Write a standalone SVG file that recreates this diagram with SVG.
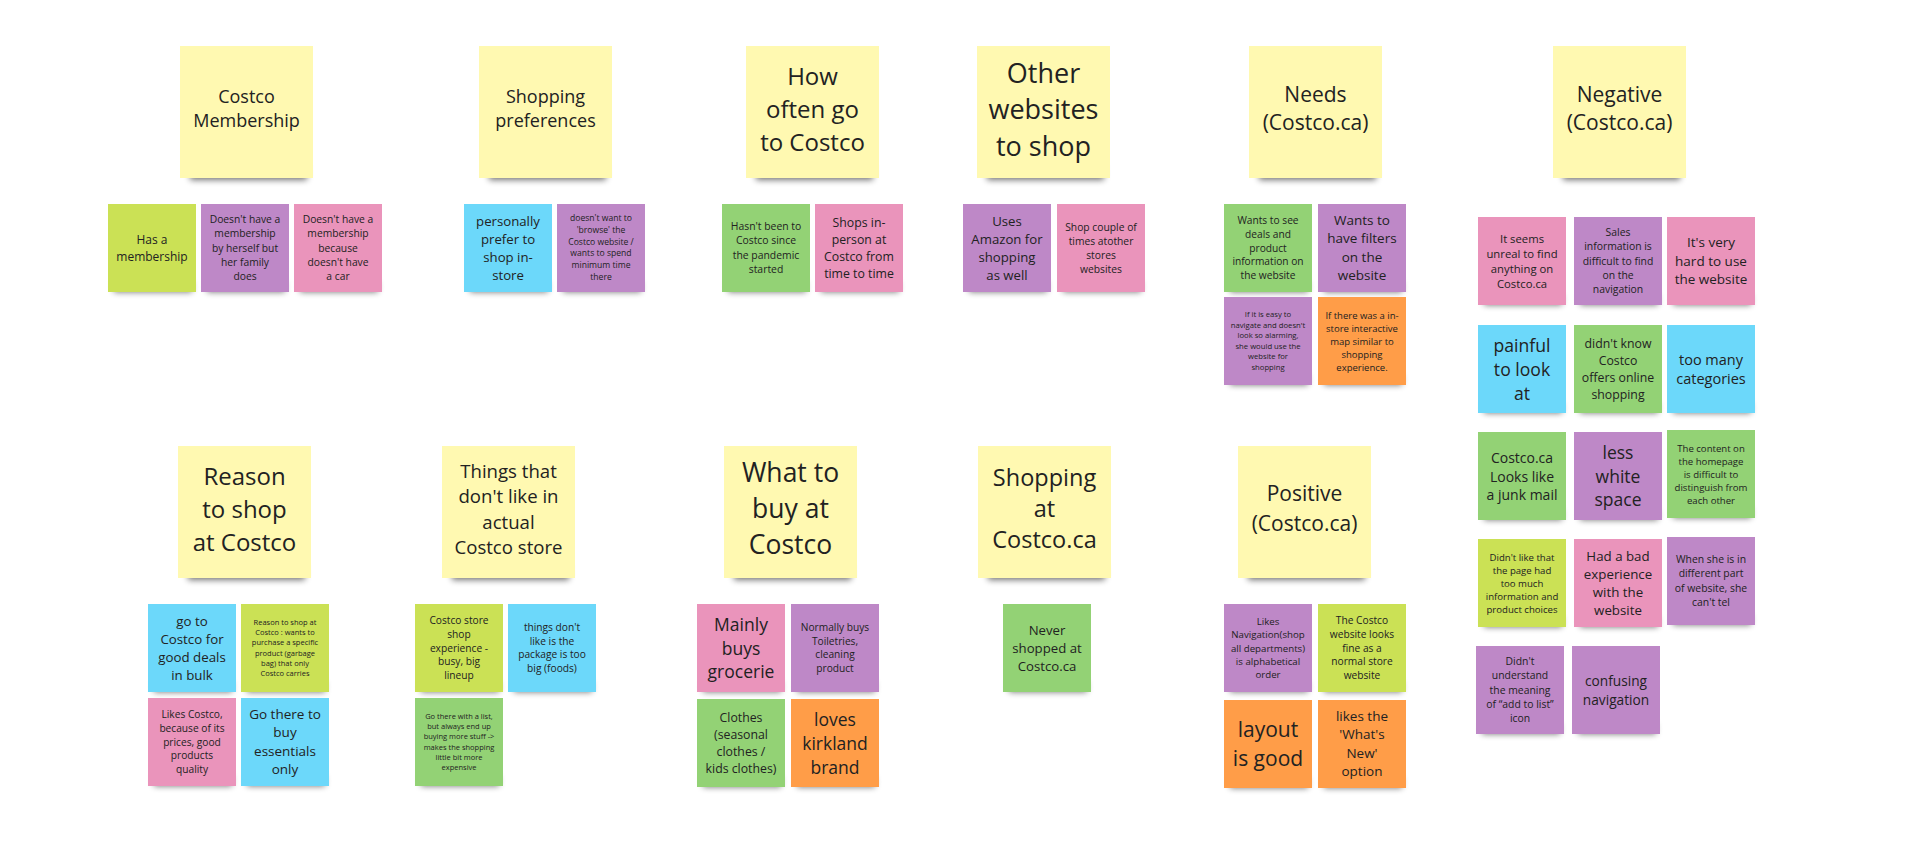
<svg xmlns="http://www.w3.org/2000/svg" width="1920" height="846" viewBox="0 0 1920 846">
<defs>
<filter id="blur" x="-20%" y="-100%" width="140%" height="300%"><feGaussianBlur stdDeviation="3"/></filter>
<style>
.sh{fill:#000;opacity:.55;filter:url(#blur)}
.y{fill:#FFF9B1}.l{fill:#CBE155}.g{fill:#93D275}.p{fill:#BE88C7}.k{fill:#EA94BB}.b{fill:#6CD8FA}.o{fill:#FF9D48}
text{font-family:"Open Sans","Noto Sans",sans-serif;text-anchor:middle;dominant-baseline:central;fill:#222}
</style>
</defs>
<rect width="1920" height="846" fill="#fff"/>
<g id="connectors"/>

<!-- Headers top row -->
<g id="h-membership"><rect class="sh" x="190" y="166" width="117" height="14"/><rect class="y" x="180" y="46" width="133" height="132"/>
<text style="font-size:18px" y="95.75"><tspan x="246.5">Costco</tspan><tspan x="246.5" dy="24.5">Membership</tspan></text></g>
<g id="h-preferences"><rect class="sh" x="489" y="166" width="117" height="14"/><rect class="y" x="479" y="46" width="133" height="132"/>
<text style="font-size:18px" y="95.75"><tspan x="545.5">Shopping</tspan><tspan x="545.5" dy="24.5">preferences</tspan></text></g>
<g id="h-howoften"><rect class="sh" x="756" y="166" width="117" height="14"/><rect class="y" x="746" y="46" width="133" height="132"/>
<text style="font-size:24px" y="75.4"><tspan x="812.5">How</tspan><tspan x="812.5" dy="32.6">often go</tspan><tspan x="812.5" dy="32.6">to Costco</tspan></text></g>
<g id="h-otherwebsites"><rect class="sh" x="987" y="166" width="117" height="14"/><rect class="y" x="977" y="46" width="133" height="132"/>
<text style="font-size:27px" y="71.5"><tspan x="1043.5">Other</tspan><tspan x="1043.5" dy="36.5">websites</tspan><tspan x="1043.5" dy="36.5">to shop</tspan></text></g>
<g id="h-needs"><rect class="sh" x="1259" y="166" width="117" height="14"/><rect class="y" x="1249" y="46" width="133" height="132"/>
<text style="font-size:21px" y="93.6"><tspan x="1315.5">Needs</tspan><tspan x="1315.5" dy="28.8">(Costco.ca)</tspan></text></g>
<g id="h-negative"><rect class="sh" x="1563" y="166" width="117" height="14"/><rect class="y" x="1553" y="46" width="133" height="132"/>
<text style="font-size:21px" y="93.6"><tspan x="1619.5">Negative</tspan><tspan x="1619.5" dy="28.8">(Costco.ca)</tspan></text></g>

<!-- Headers bottom row -->
<g id="h-reason"><rect class="sh" x="188" y="566" width="117" height="14"/><rect class="y" x="178" y="446" width="133" height="132"/>
<text style="font-size:24px" y="475.4"><tspan x="244.5">Reason</tspan><tspan x="244.5" dy="32.6">to shop</tspan><tspan x="244.5" dy="32.6">at Costco</tspan></text></g>
<g id="h-dontlike"><rect class="sh" x="452" y="566" width="117" height="14"/><rect class="y" x="442" y="446" width="133" height="132"/>
<text style="font-size:18.6px" y="469.9"><tspan x="508.5">Things that</tspan><tspan x="508.5" dy="25.4">don't like in</tspan><tspan x="508.5" dy="25.4">actual</tspan><tspan x="508.5" dy="25.4">Costco store</tspan></text></g>
<g id="h-whattobuy"><rect class="sh" x="734" y="566" width="117" height="14"/><rect class="y" x="724" y="446" width="133" height="132"/>
<text style="font-size:26.5px" y="472.2"><tspan x="790.5">What to</tspan><tspan x="790.5" dy="35.8">buy at</tspan><tspan x="790.5" dy="35.8">Costco</tspan></text></g>
<g id="h-shoppingca"><rect class="sh" x="988" y="566" width="117" height="14"/><rect class="y" x="978" y="446" width="133" height="132"/>
<text style="font-size:23.5px" y="477"><tspan x="1044.5">Shopping</tspan><tspan x="1044.5" dy="31">at</tspan><tspan x="1044.5" dy="31">Costco.ca</tspan></text></g>
<g id="h-positive"><rect class="sh" x="1248" y="566" width="117" height="14"/><rect class="y" x="1238" y="446" width="133" height="132"/>
<text style="font-size:21px" y="493.35"><tspan x="1304.5">Positive</tspan><tspan x="1304.5" dy="29.3">(Costco.ca)</tspan></text></g>

<!-- Costco Membership -->
<g id="a1"><rect class="sh" x="114" y="282" width="78" height="10"/><rect class="l" x="108" y="204" width="88" height="88"/>
<text style="font-size:12px" y="239.25"><tspan x="152">Has a</tspan><tspan x="152" dy="16.5">membership</tspan></text></g>
<g id="a2"><rect class="sh" x="207" y="282" width="78" height="10"/><rect class="p" x="201" y="204" width="88" height="88"/>
<text style="font-size:10.3px" y="219.1"><tspan x="245">Doesn't have a</tspan><tspan x="245" dy="14.2">membership</tspan><tspan x="245" dy="14.2">by herself but</tspan><tspan x="245" dy="14.2">her family</tspan><tspan x="245" dy="14.2">does</tspan></text></g>
<g id="a3"><rect class="sh" x="300" y="282" width="78" height="10"/><rect class="k" x="294" y="204" width="88" height="88"/>
<text style="font-size:10.3px" y="219.1"><tspan x="338">Doesn't have a</tspan><tspan x="338" dy="14.2">membership</tspan><tspan x="338" dy="14.2">because</tspan><tspan x="338" dy="14.2">doesn't have</tspan><tspan x="338" dy="14.2">a car</tspan></text></g>

<!-- Shopping preferences -->
<g id="b1"><rect class="sh" x="470" y="282" width="78" height="10"/><rect class="b" x="464" y="204" width="88" height="88"/>
<text style="font-size:13.2px" y="220.5"><tspan x="508">personally</tspan><tspan x="508" dy="18">prefer to</tspan><tspan x="508" dy="18">shop in-</tspan><tspan x="508" dy="18">store</tspan></text></g>
<g id="b2"><rect class="sh" x="563" y="282" width="78" height="10"/><rect class="p" x="557" y="204" width="88" height="88"/>
<text style="font-size:8.6px" y="218.25"><tspan x="601">doesn't want to</tspan><tspan x="601" dy="11.7">'browse' the</tspan><tspan x="601" dy="11.7">Costco website /</tspan><tspan x="601" dy="11.7">wants to spend</tspan><tspan x="601" dy="11.7">minimum time</tspan><tspan x="601" dy="11.7">there</tspan></text></g>

<!-- How often -->
<g id="c1"><rect class="sh" x="728" y="282" width="78" height="10"/><rect class="g" x="722" y="204" width="88" height="88"/>
<text style="font-size:10.4px" y="226.2"><tspan x="766">Hasn't been to</tspan><tspan x="766" dy="14.2">Costco since</tspan><tspan x="766" dy="14.2">the pandemic</tspan><tspan x="766" dy="14.2">started</tspan></text></g>
<g id="c2"><rect class="sh" x="821" y="282" width="78" height="10"/><rect class="k" x="815" y="204" width="88" height="88"/>
<text style="font-size:12.3px" y="222.45"><tspan x="859">Shops in-</tspan><tspan x="859" dy="16.7">person at</tspan><tspan x="859" dy="16.7">Costco from</tspan><tspan x="859" dy="16.7">time to time</tspan></text></g>

<!-- Other websites -->
<g id="d1"><rect class="sh" x="969" y="282" width="78" height="10"/><rect class="p" x="963" y="204" width="88" height="88"/>
<text style="font-size:13.2px" y="220.5"><tspan x="1007">Uses</tspan><tspan x="1007" dy="18">Amazon for</tspan><tspan x="1007" dy="18">shopping</tspan><tspan x="1007" dy="18">as well</tspan></text></g>
<g id="d2"><rect class="sh" x="1063" y="282" width="78" height="10"/><rect class="k" x="1057" y="204" width="88" height="88"/>
<text style="font-size:10.3px" y="226.5"><tspan x="1101">Shop couple of</tspan><tspan x="1101" dy="14">times atother</tspan><tspan x="1101" dy="14">stores</tspan><tspan x="1101" dy="14">websites</tspan></text></g>

<!-- Needs -->
<g id="e1"><rect class="sh" x="1230" y="282" width="78" height="10"/><rect class="g" x="1224" y="204" width="88" height="88"/>
<text style="font-size:10.2px" y="220.1"><tspan x="1268">Wants to see</tspan><tspan x="1268" dy="13.7">deals and</tspan><tspan x="1268" dy="13.7">product</tspan><tspan x="1268" dy="13.7">information on</tspan><tspan x="1268" dy="13.7">the website</tspan></text></g>
<g id="e2"><rect class="sh" x="1324" y="282" width="78" height="10"/><rect class="p" x="1318" y="204" width="88" height="88"/>
<text style="font-size:13.5px" y="220.05"><tspan x="1362">Wants to</tspan><tspan x="1362" dy="18.3">have filters</tspan><tspan x="1362" dy="18.3">on the</tspan><tspan x="1362" dy="18.3">website</tspan></text></g>
<g id="e3"><rect class="sh" x="1230" y="375" width="78" height="10"/><rect class="p" x="1224" y="297" width="88" height="88"/>
<text style="font-size:7.7px" y="314.25"><tspan x="1268">If it is easy to</tspan><tspan x="1268" dy="10.5">navigate and doesn't</tspan><tspan x="1268" dy="10.5">look so alarming,</tspan><tspan x="1268" dy="10.5">she would use the</tspan><tspan x="1268" dy="10.5">website for</tspan><tspan x="1268" dy="10.5">shopping</tspan></text></g>
<g id="e4"><rect class="sh" x="1324" y="375" width="78" height="10"/><rect class="o" x="1318" y="297" width="88" height="88"/>
<text style="font-size:9.5px" y="314.5"><tspan x="1362">If there was a in-</tspan><tspan x="1362" dy="13">store interactive</tspan><tspan x="1362" dy="13">map similar to</tspan><tspan x="1362" dy="13">shopping</tspan><tspan x="1362" dy="13">experience.</tspan></text></g>

<!-- Negative -->
<g id="f1"><rect class="sh" x="1484" y="295" width="78" height="10"/><rect class="k" x="1478" y="217" width="88" height="88"/>
<text style="font-size:11.3px" y="237.55"><tspan x="1522">It seems</tspan><tspan x="1522" dy="15.3">unreal to find</tspan><tspan x="1522" dy="15.3">anything on</tspan><tspan x="1522" dy="15.3">Costco.ca</tspan></text></g>
<g id="f2"><rect class="sh" x="1580" y="295" width="78" height="10"/><rect class="p" x="1574" y="217" width="88" height="88"/>
<text style="font-size:10.4px" y="232.1"><tspan x="1618">Sales</tspan><tspan x="1618" dy="14.2">information is</tspan><tspan x="1618" dy="14.2">difficult to find</tspan><tspan x="1618" dy="14.2">on the</tspan><tspan x="1618" dy="14.2">navigation</tspan></text></g>
<g id="f3"><rect class="sh" x="1673" y="295" width="78" height="10"/><rect class="k" x="1667" y="217" width="88" height="88"/>
<text style="font-size:13.5px" y="242.2"><tspan x="1711">It's very</tspan><tspan x="1711" dy="18.3">hard to use</tspan><tspan x="1711" dy="18.3">the website</tspan></text></g>
<g id="f4"><rect class="sh" x="1484" y="403" width="78" height="10"/><rect class="b" x="1478" y="325" width="88" height="88"/>
<text style="font-size:17.6px" y="344.5"><tspan x="1522">painful</tspan><tspan x="1522" dy="24">to look</tspan><tspan x="1522" dy="24">at</tspan></text></g>
<g id="f5"><rect class="sh" x="1580" y="403" width="78" height="10"/><rect class="g" x="1574" y="325" width="88" height="88"/>
<text style="font-size:12.3px" y="343.45"><tspan x="1618">didn't know</tspan><tspan x="1618" dy="16.7">Costco</tspan><tspan x="1618" dy="16.7">offers online</tspan><tspan x="1618" dy="16.7">shopping</tspan></text></g>
<g id="f6"><rect class="sh" x="1673" y="403" width="78" height="10"/><rect class="b" x="1667" y="325" width="88" height="88"/>
<text style="font-size:14.5px" y="359.35"><tspan x="1711">too many</tspan><tspan x="1711" dy="18.3">categories</tspan></text></g>
<g id="f7"><rect class="sh" x="1484" y="510" width="78" height="10"/><rect class="g" x="1478" y="432" width="88" height="88"/>
<text style="font-size:14px" y="456.7"><tspan x="1522">Costco.ca</tspan><tspan x="1522" dy="18.8">Looks like</tspan><tspan x="1522" dy="18.8">a junk mail</tspan></text></g>
<g id="f8"><rect class="sh" x="1580" y="510" width="78" height="10"/><rect class="p" x="1574" y="432" width="88" height="88"/>
<text style="font-size:17.5px" y="451.7"><tspan x="1618">less</tspan><tspan x="1618" dy="23.8">white</tspan><tspan x="1618" dy="23.8">space</tspan></text></g>
<g id="f9"><rect class="sh" x="1673" y="508" width="78" height="10"/><rect class="g" x="1667" y="430" width="88" height="88"/>
<text style="font-size:9.6px" y="447.5"><tspan x="1711">The content on</tspan><tspan x="1711" dy="13">the homepage</tspan><tspan x="1711" dy="13">is difficult to</tspan><tspan x="1711" dy="13">distinguish from</tspan><tspan x="1711" dy="13">each other</tspan></text></g>
<g id="f10"><rect class="sh" x="1484" y="617" width="78" height="10"/><rect class="l" x="1478" y="539" width="88" height="88"/>
<text style="font-size:9.6px" y="556.5"><tspan x="1522">Didn't like that</tspan><tspan x="1522" dy="13">the page had</tspan><tspan x="1522" dy="13">too much</tspan><tspan x="1522" dy="13">information and</tspan><tspan x="1522" dy="13">product choices</tspan></text></g>
<g id="f11"><rect class="sh" x="1580" y="617" width="78" height="10"/><rect class="k" x="1574" y="539" width="88" height="88"/>
<text style="font-size:13.3px" y="555.5"><tspan x="1618">Had a bad</tspan><tspan x="1618" dy="18">experience</tspan><tspan x="1618" dy="18">with the</tspan><tspan x="1618" dy="18">website</tspan></text></g>
<g id="f12"><rect class="sh" x="1673" y="615" width="78" height="10"/><rect class="p" x="1667" y="537" width="88" height="88"/>
<text style="font-size:10.4px" y="559.2"><tspan x="1711">When she is in</tspan><tspan x="1711" dy="14.2">different part</tspan><tspan x="1711" dy="14.2">of website, she</tspan><tspan x="1711" dy="14.2">can't tel</tspan></text></g>
<g id="f13"><rect class="sh" x="1482" y="724" width="78" height="10"/><rect class="p" x="1476" y="646" width="88" height="88"/>
<text style="font-size:10.4px" y="661.1"><tspan x="1520">Didn't</tspan><tspan x="1520" dy="14.2">understand</tspan><tspan x="1520" dy="14.2">the meaning</tspan><tspan x="1520" dy="14.2">of “add to list”</tspan><tspan x="1520" dy="14.2">icon</tspan></text></g>
<g id="f14"><rect class="sh" x="1578" y="724" width="78" height="10"/><rect class="p" x="1572" y="646" width="88" height="88"/>
<text style="font-size:13.7px" y="680.15"><tspan x="1616">confusing</tspan><tspan x="1616" dy="18.7">navigation</tspan></text></g>

<!-- Reason to shop -->
<g id="g1"><rect class="sh" x="154" y="682" width="78" height="10"/><rect class="b" x="148" y="604" width="88" height="88"/>
<text style="font-size:13.3px" y="620.5"><tspan x="192">go to</tspan><tspan x="192" dy="18">Costco for</tspan><tspan x="192" dy="18">good deals</tspan><tspan x="192" dy="18">in bulk</tspan></text></g>
<g id="g2"><rect class="sh" x="247" y="682" width="78" height="10"/><rect class="l" x="241" y="604" width="88" height="88"/>
<text style="font-size:7.5px" y="621.75"><tspan x="285">Reason to shop at</tspan><tspan x="285" dy="10.3">Costco : wants to</tspan><tspan x="285" dy="10.3">purchase a specific</tspan><tspan x="285" dy="10.3">product (garbage</tspan><tspan x="285" dy="10.3">bag) that only</tspan><tspan x="285" dy="10.3">Costco carries</tspan></text></g>
<g id="g3"><rect class="sh" x="154" y="776" width="78" height="10"/><rect class="k" x="148" y="698" width="88" height="88"/>
<text style="font-size:10.2px" y="713.7"><tspan x="192">Likes Costco,</tspan><tspan x="192" dy="13.9">because of its</tspan><tspan x="192" dy="13.9">prices, good</tspan><tspan x="192" dy="13.9">products</tspan><tspan x="192" dy="13.9">quality</tspan></text></g>
<g id="g4"><rect class="sh" x="247" y="776" width="78" height="10"/><rect class="b" x="241" y="698" width="88" height="88"/>
<text style="font-size:13.5px" y="714.05"><tspan x="285">Go there to</tspan><tspan x="285" dy="18.3">buy</tspan><tspan x="285" dy="18.3">essentials</tspan><tspan x="285" dy="18.3">only</tspan></text></g>

<!-- Things don't like -->
<g id="h1"><rect class="sh" x="421" y="682" width="78" height="10"/><rect class="l" x="415" y="604" width="88" height="88"/>
<text style="font-size:10.2px" y="619.7"><tspan x="459">Costco store</tspan><tspan x="459" dy="13.9">shop</tspan><tspan x="459" dy="13.9">experience -</tspan><tspan x="459" dy="13.9">busy, big</tspan><tspan x="459" dy="13.9">lineup</tspan></text></g>
<g id="h2"><rect class="sh" x="514" y="682" width="78" height="10"/><rect class="b" x="508" y="604" width="88" height="88"/>
<text style="font-size:10.2px" y="626.65"><tspan x="552">things don't</tspan><tspan x="552" dy="13.9">like is the</tspan><tspan x="552" dy="13.9">package is too</tspan><tspan x="552" dy="13.9">big (foods)</tspan></text></g>
<g id="h3"><rect class="sh" x="421" y="776" width="78" height="10"/><rect class="g" x="415" y="698" width="88" height="88"/>
<text style="font-size:7.5px" y="716"><tspan x="459">Go there with a list,</tspan><tspan x="459" dy="10.2">but always end up</tspan><tspan x="459" dy="10.2">buying more stuff -&gt;</tspan><tspan x="459" dy="10.2">makes the shopping</tspan><tspan x="459" dy="10.2">little bit more</tspan><tspan x="459" dy="10.2">expensive</tspan></text></g>

<!-- What to buy -->
<g id="i1"><rect class="sh" x="703" y="682" width="78" height="10"/><rect class="k" x="697" y="604" width="88" height="88"/>
<text style="font-size:17.5px" y="623.7"><tspan x="741">Mainly</tspan><tspan x="741" dy="23.8">buys</tspan><tspan x="741" dy="23.8">grocerie</tspan></text></g>
<g id="i2"><rect class="sh" x="797" y="682" width="78" height="10"/><rect class="p" x="791" y="604" width="88" height="88"/>
<text style="font-size:10.2px" y="626.65"><tspan x="835">Normally buys</tspan><tspan x="835" dy="13.9">Toiletries,</tspan><tspan x="835" dy="13.9">cleaning</tspan><tspan x="835" dy="13.9">product</tspan></text></g>
<g id="i3"><rect class="sh" x="703" y="777" width="78" height="10"/><rect class="g" x="697" y="699" width="88" height="88"/>
<text style="font-size:12.3px" y="717.45"><tspan x="741">Clothes</tspan><tspan x="741" dy="16.7">(seasonal</tspan><tspan x="741" dy="16.7">clothes /</tspan><tspan x="741" dy="16.7">kids clothes)</tspan></text></g>
<g id="i4"><rect class="sh" x="797" y="777" width="78" height="10"/><rect class="o" x="791" y="699" width="88" height="88"/>
<text style="font-size:17.5px" y="718.5"><tspan x="835">loves</tspan><tspan x="835" dy="24">kirkland</tspan><tspan x="835" dy="24">brand</tspan></text></g>

<!-- Shopping at Costco.ca -->
<g id="j1"><rect class="sh" x="1009" y="682" width="78" height="10"/><rect class="g" x="1003" y="604" width="88" height="88"/>
<text style="font-size:13.2px" y="629.5"><tspan x="1047">Never</tspan><tspan x="1047" dy="18">shopped at</tspan><tspan x="1047" dy="18">Costco.ca</tspan></text></g>

<!-- Positive -->
<g id="k1"><rect class="sh" x="1230" y="682" width="78" height="10"/><rect class="p" x="1224" y="604" width="88" height="88"/>
<text style="font-size:9.7px" y="621"><tspan x="1268">Likes</tspan><tspan x="1268" dy="13.25">Navigation(shop</tspan><tspan x="1268" dy="13.25">all departments)</tspan><tspan x="1268" dy="13.25">is alphabetical</tspan><tspan x="1268" dy="13.25">order</tspan></text></g>
<g id="k2"><rect class="sh" x="1324" y="682" width="78" height="10"/><rect class="l" x="1318" y="604" width="88" height="88"/>
<text style="font-size:10.2px" y="619.7"><tspan x="1362">The Costco</tspan><tspan x="1362" dy="13.9">website looks</tspan><tspan x="1362" dy="13.9">fine as a</tspan><tspan x="1362" dy="13.9">normal store</tspan><tspan x="1362" dy="13.9">website</tspan></text></g>
<g id="k3"><rect class="sh" x="1230" y="778" width="78" height="10"/><rect class="o" x="1224" y="700" width="88" height="88"/>
<text style="font-size:21px" y="728.85"><tspan x="1268">layout</tspan><tspan x="1268" dy="29.3">is good</tspan></text></g>
<g id="k4"><rect class="sh" x="1324" y="778" width="78" height="10"/><rect class="o" x="1318" y="700" width="88" height="88"/>
<text style="font-size:13.5px" y="716.05"><tspan x="1362">likes the</tspan><tspan x="1362" dy="18.3">'What's</tspan><tspan x="1362" dy="18.3">New'</tspan><tspan x="1362" dy="18.3">option</tspan></text></g>
</svg>
